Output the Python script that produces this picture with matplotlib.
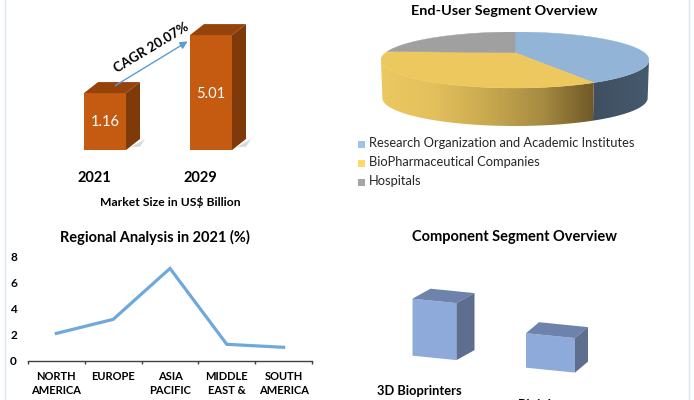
import numpy as np
import matplotlib
matplotlib.use("Agg")
import matplotlib.pyplot as plt
from matplotlib.colors import LinearSegmentedColormap
from matplotlib.patches import Polygon, Rectangle

plt.rcParams["font.family"] = ["Lato", "DejaVu Sans"]

FIG_W = 694
FIG_H = 400

# market size
market_years = ["2021", "2029"]
market_values = [1.16, 5.01]

# end user split
segment_names = [
    "Research Organization and Academic Institutes",
    "BioPharmaceutical Companies",
    "Hospitals",
]
segment_shares = [40, 40, 20]

# regional line
regions = ["NORTH\nAMERICA", "EUROPE", "ASIA\nPACIFIC", "MIDDLE\nEAST &", "SOUTH\nAMERICA"]
region_values = [2.1, 3.18, 7.1, 1.26, 1.03]

# component cubes
component_names = ["3D Bioprinters", "Bioink"]
component_values = [57, 34.5]


def px_axes(fig, x0, y0, x1, y1):
    # pixel box, y measured from the top of the image
    ax = fig.add_axes([x0 / FIG_W, 1 - y1 / FIG_H, (x1 - x0) / FIG_W, (y1 - y0) / FIG_H])
    ax.patch.set_alpha(0)
    return ax


def px_text(fig, x, y, s, **kwargs):
    kwargs.setdefault("ha", "center")
    kwargs.setdefault("va", "center")
    kwargs.setdefault("color", "black")
    return fig.text(x / FIG_W, 1 - y / FIG_H, s, **kwargs)


def draw_market(fig):
    # 106 px between the bars, 15.06 px per billion
    ax = px_axes(fig, 40, 10, 280, 150)
    x_per_px = 1 / 106
    y_per_px = 1 / 15.06
    ymin = -2.62
    ax.set_xlim((40 - 105) * x_per_px, (280 - 105) * x_per_px)
    ax.set_ylim(ymin, ymin + 140 * y_per_px)
    width = 42 * x_per_px
    dx = 14 * x_per_px
    dy = 11 * y_per_px

    for i, v in enumerate(market_values):
        left = i - width / 2
        right = i + width / 2
        shadow = [(left, ymin), (right, ymin), (right + dx + 5 * x_per_px, ymin + dy),
                  (right + dx, ymin + dy * 0.3)]
        ax.add_patch(Polygon(shadow, color="#D9D9D9", lw=0, zorder=1))
        ax.bar(i, v - ymin, width=width, bottom=ymin, color="#C55A11", zorder=3)
        top = [(left, v), (right, v), (right + dx, v + dy), (left + dx, v + dy)]
        ax.add_patch(Polygon(top, color="#95430B", lw=0, zorder=3))
        side = [(right, ymin), (right + dx, ymin + dy), (right + dx, v + dy), (right, v)]
        ax.add_patch(Polygon(side, color="#7F3A0A", lw=0, zorder=3))
        ax.text(i, ymin + (150 - (122 if i == 0 else 94)) * y_per_px, f"{v:.2f}",
                ha="center", va="center", color="white", fontsize=10.5, zorder=4)

    # year labels sit a bit left of the bar centres in the original
    ax.set_xticks(np.arange(len(market_years)) - 11 * x_per_px)
    ax.set_xticklabels(market_years, fontweight="bold", fontsize=10.5)
    ax.tick_params(axis="x", length=0, pad=15)
    ax.set_yticks([])
    for s in ax.spines.values():
        s.set_visible(False)

    # growth arrow between the two bars
    ax.annotate(
        "",
        xy=(190 * 1.0 / 106 - 105 / 106, ymin + (150 - 40) * y_per_px),
        xytext=(113 / 106 - 105 / 106, ymin + (150 - 87) * y_per_px),
        arrowprops=dict(arrowstyle="-|>", color="#5B9BD5", lw=1, mutation_scale=11),
        zorder=5,
    )
    px_text(fig, 151, 48, "CAGR 20.07%", fontsize=9.6, fontweight="bold", rotation=31,
            rotation_mode="anchor")
    px_text(fig, 170, 202, "Market Size in US$ Billion", fontsize=8.7, fontweight="bold")


def arc(t0, t1, cy=0.0, scale=1.0):
    t = np.radians(np.linspace(t0, t1, 80))
    return np.column_stack([np.sin(t) * scale, cy + np.cos(t)])


def draw_pie(fig):
    # unit circle squashed: 134 px wide radius, 28 px tall radius
    ax = px_axes(fig, 381, 32, 649, 128)
    ax.set_xlim(-1, 1)
    ymax = 1.0
    ymin = -(128 - 60) / 28
    depth = 38 / 28
    apex = (0, 0.26)
    colors = ["#92B4D6", "#EDC85E", "#A0A0A0"]

    edges = np.cumsum([0] + segment_shares) / sum(segment_shares) * 360

    # rim, only the front half shows
    blue_rim = np.vstack([arc(90, edges[1]), arc(edges[1], 90, cy=-depth, scale=0.99)])
    gold_rim = np.vstack([arc(edges[1], 270), arc(270, edges[1], cy=-depth, scale=0.99)])
    blue_map = LinearSegmentedColormap.from_list("b", ["#3F4F60", "#465A6E"])
    gold_map = LinearSegmentedColormap.from_list(
        "g", ["#EBC860", "#E3C05C", "#C9A94F", "#A88C42", "#6F5A27"])
    ramp = np.linspace(0, 1, 256).reshape(1, -1)
    for rim, cmap in [(blue_rim, blue_map), (gold_rim, gold_map)]:
        patch = Polygon(rim, transform=ax.transData, lw=0, fc="none")
        ax.add_patch(patch)
        im = ax.imshow(ramp, cmap=cmap, aspect="auto", zorder=2,
                       extent=(rim[:, 0].min(), rim[:, 0].max(), ymin, ymax))
        im.set_clip_path(patch)

    for i, c in enumerate(colors):
        pts = np.vstack([[apex], arc(edges[i], edges[i + 1])])
        ax.add_patch(Polygon(pts, fc=c, ec=c, lw=0.3, zorder=3))

    ax.set_xlim(-1, 1)
    ax.set_ylim(ymin, ymax)
    ax.axis("off")

    px_text(fig, 504, 11, "End-User Segment Overview", fontsize=10.4, fontweight="bold")

    # legend by hand, it sits tight under the pie
    for i, (name, c) in enumerate(zip(segment_names, ["#9DC3E6", "#FFD966", "#A5A5A5"])):
        y = 144 + i * 19
        fig.patches.append(Rectangle((358 / FIG_W, 1 - (y + 3.5) / FIG_H), 7 / FIG_W, 7 / FIG_H,
                                     transform=fig.transFigure, fc=c, lw=0))
        px_text(fig, 369, y - 1, name, ha="left", fontsize=9.25, color="#262626")


def draw_regions(fig):
    ax = px_axes(fig, 28, 256.7, 312, 360.7)
    ax.plot(range(len(region_values)), region_values, color="#6FA8DC", lw=2.3,
            solid_joinstyle="miter")
    ax.set_xlim(-0.5, len(regions) - 0.5)
    ax.set_ylim(0, 8)
    ax.set_xticks(range(len(regions)))
    ax.set_xticklabels(regions, fontweight="bold", fontsize=8, linespacing=1.3)
    ax.set_xticks(np.arange(len(regions) + 1) - 0.5, minor=True)
    ax.tick_params(axis="x", which="major", length=0, pad=7.5)
    ax.tick_params(axis="x", which="minor", length=2.5, width=1, color="#404040")
    ax.set_yticks([0, 2, 4, 6, 8])
    ax.set_yticklabels([0, 2, 4, 6, 8], fontweight="bold", fontsize=8.5)
    ax.tick_params(axis="y", length=0, pad=8)
    for s in ["top", "left", "right"]:
        ax.spines[s].set_visible(False)
    ax.spines["bottom"].set_color("#404040")
    ax.spines["bottom"].set_linewidth(1)
    px_text(fig, 155, 237, "Regional Analysis in 2021 (%)", fontsize=10.5, fontweight="bold")


def draw_cubes(fig):
    # whole panel in image pixels, the floor slopes down to the right
    ax = px_axes(fig, 400, 280, 600, 380)
    ax.set_xlim(400, 600)
    ax.set_ylim(380, 280)
    ax.axis("off")
    lefts = [412.5, 526]
    widths = [44, 49]
    floors = [355.7, 367.7]
    depths = [(18, -10), (13, -11)]
    slope = 0.1
    for v, x, w, f, (dx, dy) in zip(component_values, lefts, widths, floors, depths):
        bl = (x, f)
        br = (x + w, f + slope * w)
        tl = (x, f - v)
        tr = (x + w, f + slope * w - v)
        ax.add_patch(Polygon([bl, br, tr, tl], fc="#8EAADB", lw=0, zorder=3))
        ax.add_patch(Polygon([tl, tr, (tr[0] + dx, tr[1] + dy), (tl[0] + dx, tl[1] + dy)],
                             fc="#6D83AB", lw=0, zorder=3))
        ax.add_patch(Polygon([br, (br[0] + dx, br[1] + dy), (tr[0] + dx, tr[1] + dy), tr],
                             fc="#5D6E8F", lw=0, zorder=3))
    px_text(fig, 515, 237, "Component Segment Overview", fontsize=10.5, fontweight="bold")
    px_text(fig, 419, 391, component_names[0], fontsize=9.3, fontweight="bold")
    px_text(fig, 536, 405, component_names[1], fontsize=9.3, fontweight="bold")


def main():
    fig = plt.figure(figsize=(FIG_W / 100, FIG_H / 100), dpi=100, facecolor="white")

    # pale frame lines left and right of the image
    for x in [5, 689]:
        fig.add_artist(plt.Line2D([x / FIG_W, x / FIG_W], [0, 1], color="#DCE6F1", lw=1))

    draw_market(fig)
    draw_pie(fig)
    draw_regions(fig)
    draw_cubes(fig)

    fig.savefig("out.png", dpi=100)
    plt.close(fig)


if __name__ == "__main__":
    main()
